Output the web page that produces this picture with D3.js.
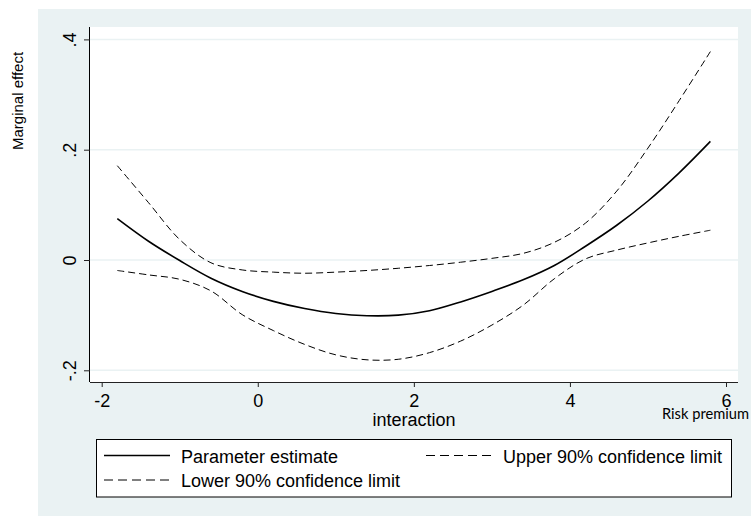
<!DOCTYPE html>
<html>
<head>
<meta charset="utf-8">
<script src="https://cdn.jsdelivr.net/npm/d3@7"></script>
<style>
  body { margin: 0; background: #fff; }
  text { font-family: "Liberation Sans", Arial, sans-serif; fill: #000; }
</style>
</head>
<body>
<svg width="751" height="516"></svg>
<script>
// values
var xs = [-1.8, -1.4, -1.0, -0.6, -0.2, 0.2, 0.6, 1.0, 1.4, 1.8, 2.2, 2.6, 3.0, 3.4, 3.8, 4.2, 4.6, 5.0, 5.4, 5.8];
var estimate = [0.075, 0.034, -0.001, -0.033, -0.057, -0.075, -0.088, -0.097, -0.101, -0.100, -0.092, -0.076, -0.057, -0.036, -0.010, 0.025, 0.063, 0.107, 0.158, 0.215];
var upper = [0.171, 0.104, 0.037, -0.005, -0.018, -0.022, -0.024, -0.022, -0.019, -0.015, -0.010, -0.004, 0.003, 0.012, 0.032, 0.067, 0.125, 0.203, 0.289, 0.378];
var lower = [-0.019, -0.027, -0.035, -0.056, -0.099, -0.128, -0.153, -0.172, -0.181, -0.180, -0.168, -0.147, -0.118, -0.082, -0.034, 0.002, 0.018, 0.031, 0.043, 0.054];
var xTicks = [-2, 0, 2, 4, 6];
var xTickLabels = ["-2", "0", "2", "4", "6"];
var yTicks = [-0.2, 0, 0.2, 0.4];
var yTickLabels = ["-.2", "0", ".2", ".4"];

var svg = d3.select("svg");
var bg = "#eaf2f3";

svg.append("rect").attr("x", 38).attr("y", 9).attr("width", 713).attr("height", 507).style("fill", bg);
svg.append("rect").attr("x", 90).attr("y", 27).attr("width", 648).attr("height", 355).style("fill", "#fff");

xScale = d3.scaleLinear().domain([-2, 6]).range([101.7, 726]);
yScale = d3.scaleLinear().domain([-0.2, 0.4]).range([370.3, 39.4]);

// grid
svg.selectAll("line.grid").data(yTicks).enter().append("line").attr("class", "grid")
    .attr("x1", 90).attr("x2", 738)
    .attr("y1", function (d) { return yScale(d) }).attr("y2", function (d) { return yScale(d) })
    .style("stroke", bg).style("stroke-width", 1.5);

// axes
xAxis = d3.axisBottom(xScale).tickValues(xTicks).tickSize(5).tickPadding(4).tickFormat(function (d, i) { return xTickLabels[i] });
var xg = svg.append("g").attr("id", "xAxisG").attr("transform", "translate(0,382)").call(xAxis);
xg.select(".domain").attr("d", "M90,0.5H738").style("stroke", "#222");
xg.selectAll(".tick line").style("stroke", "#222");
xg.selectAll(".tick text").style("font-size", "18px").style("font-family", "Liberation Sans, Arial, sans-serif").attr("dy", "0.9em");

yAxis = d3.axisLeft(yScale).tickValues(yTicks).tickSize(6).tickFormat(function (d, i) { return yTickLabels[i] });
var yg = svg.append("g").attr("id", "yAxisG").attr("transform", "translate(90,0)").call(yAxis);
yg.select(".domain").attr("d", "M-0.5,27V382").style("stroke", "#000");
yg.selectAll(".tick line").style("stroke", "#222");
yg.selectAll(".tick text")
    .style("font-size", "18px").style("font-family", "Liberation Sans, Arial, sans-serif")
    .attr("x", 0).attr("dy", 0).style("text-anchor", "middle")
    .attr("transform", "translate(-14,0) rotate(-90)");

// titles
svg.append("text").attr("transform", "translate(23,101) rotate(-90)").style("text-anchor", "middle")
    .style("font-size", "15px").text("Marginal effect");
svg.append("text").attr("x", 414).attr("y", 426).style("text-anchor", "middle")
    .style("font-size", "18px").text("interaction");
svg.append("text").attr("x", 662).attr("y", 419).attr("textLength", 87).attr("lengthAdjust", "spacingAndGlyphs")
    .style("font-family", "Lato, 'Open Sans', sans-serif").style("font-size", "15px").text("Risk premium");

// lines
function lineFor(vals) {
    return d3.line().curve(d3.curveCatmullRom)
        .x(function (d, i) { return xScale(xs[i]) })
        .y(function (d) { return yScale(d) })(vals);
}
var series = [
    { name: "Parameter estimate", vals: estimate, dash: null, w: 1.6 },
    { name: "Upper 90% confidence limit", vals: upper, dash: "7,4", w: 1 },
    { name: "Lower 90% confidence limit", vals: lower, dash: "7,4", w: 1 }
];
svg.selectAll("path.series").data(series).enter().append("path").attr("class", "series")
    .attr("d", function (d) { return lineFor(d.vals) })
    .style("fill", "none").style("stroke", "#000")
    .style("stroke-width", function (d) { return d.w })
    .style("stroke-dasharray", function (d) { return d.dash });

// legend
svg.append("rect").attr("x", 96.5).attr("y", 439.5).attr("width", 635).attr("height", 57.5)
    .style("fill", "#fff").style("stroke", "#000").style("stroke-width", 1);
var legPos = [[104, 455.5], [426, 455.5], [104, 480]];
var leg = svg.selectAll("g.leg").data(series).enter().append("g").attr("class", "leg")
    .attr("transform", function (d, i) { return "translate(" + legPos[i][0] + "," + legPos[i][1] + ")" });
leg.append("line").attr("x1", 0).attr("x2", 66)
    .style("stroke", "#000").style("stroke-width", function (d) { return d.w })
    .style("stroke-dasharray", function (d) { return d.dash ? "9,5" : null });
leg.append("text").attr("x", 77).attr("y", 7)
    .style("font-size", "18px").text(function (d) { return d.name });
</script>
</body>
</html>
